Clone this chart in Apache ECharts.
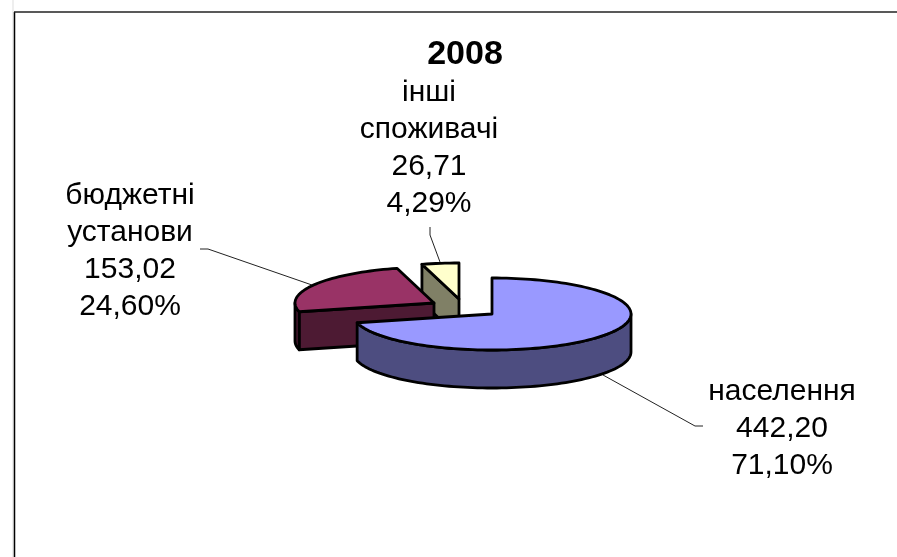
<!DOCTYPE html>
<html>
<head>
<meta charset="utf-8">
<style>html,body{margin:0;padding:0;background:#fff}#c{width:897px;height:557px}</style>
<script src="https://cdn.jsdelivr.net/npm/echarts@6/dist/echarts.min.js"></script>
</head>
<body>
<div id="c"></div>
<script>
// --- data ---
var chartTitle = '2008';
var categories = ['населення', 'бюджетні\nустанови', 'інші\nспоживачі'];
var values = [442.20, 153.02, 26.71];
var percentLabels = ['71,10%', '24,60%', '4,29%'];

// --- layout and style ---
var RX = 139, RY = 36, DEPTH = 38;
var centers = [[492, 314], [434, 303], [459, 299]];
var topColors = ['#9999FF', '#993366', '#FFFFCC'];
var sideColors = ['#4D4D80', '#4D1A33', '#808066'];
var labelPos = [[782, 429], [130, 251.5], [429, 148]];
var leaders = [
  [[603, 375], [695, 426], [703, 426]],
  [[200, 249], [208, 249], [312, 285]],
  [[430, 227], [430, 235], [440, 262]]
];
var FONT = '"Liberation Sans", Arial, sans-serif';
var total = values.reduce(function (a, b) { return a + b; }, 0);

function pt(c, deg, dy) {
  var r = deg * Math.PI / 180;
  return [c[0] + RX * Math.sin(r), c[1] - RY * Math.cos(r) + (dy || 0)];
}
function arc(c, a0, a1, dy) {
  var out = [], n = Math.max(2, Math.ceil(Math.abs(a1 - a0) / 2));
  for (var i = 0; i <= n; i++) out.push(pt(c, a0 + (a1 - a0) * i / n, dy));
  return out;
}
function renderSlice(params, api) {
  var i = params.dataIndex;
  var val = api.value(0);
  var start = 0;
  for (var k = 0; k < i; k++) start += values[k] / total * 360;
  var end = start + val / total * 360;
  var c = centers[i];
  var z = 10 + (values.length - i) * 10;
  var stroke = { stroke: '#000', lineWidth: 2.8, lineJoin: 'round' };
  var children = [];
  function poly(points, fill, zz) {
    children.push({
      type: 'polygon', z2: zz,
      shape: { points: points },
      style: Object.assign({ fill: fill }, stroke)
    });
  }
  // radial cut face at the slice start, visible on the left half only
  if (Math.sin(start * Math.PI / 180) < -1e-6) {
    var p = pt(c, start);
    poly([c, p, [p[0], p[1] + DEPTH], [c[0], c[1] + DEPTH]], sideColors[i], z);
  }
  // outer front wall
  var w0 = Math.max(start, 90), w1 = Math.min(end, 270);
  if (w1 > w0) {
    poly(arc(c, w0, w1).concat(arc(c, w1, w0, DEPTH)), sideColors[i], z + 1);
  }
  // top face
  poly([c].concat(arc(c, start, end)), topColors[i], z + 2);
  // leader
  children.push({
    type: 'polyline', z2: 5,
    shape: { points: leaders[i] },
    style: { fill: null, stroke: '#222', lineWidth: 1 }
  });
  // label
  var num = val.toFixed(2).replace('.', ',');
  children.push({
    type: 'text', z2: 100,
    style: {
      x: labelPos[i][0], y: labelPos[i][1],
      text: categories[i] + '\n' + num + '\n' + percentLabels[i],
      align: 'center', verticalAlign: 'middle',
      font: '30px ' + FONT, lineHeight: 37, fill: '#000'
    }
  });
  return { type: 'group', children: children };
}

var chart = echarts.init(document.getElementById('c'), null, { renderer: 'canvas' });
chart.setOption({
  animation: false,
  backgroundColor: '#fff',
  title: {
    text: chartTitle, left: 460, top: 50, textAlign: 'center', textVerticalAlign: 'middle',
    textStyle: { fontFamily: FONT, fontSize: 34, fontWeight: 'bold', color: '#000' }
  },
  graphic: [
    { type: 'line', silent: true, z: 1, shape: { x1: 13, y1: 0, x2: 13, y2: 557 }, style: { stroke: '#ddd', lineWidth: 1 } },
    { type: 'line', silent: true, z: 2, shape: { x1: 14.5, y1: 12, x2: 14.5, y2: 557 }, style: { stroke: '#000', lineWidth: 1.5 } },
    { type: 'line', silent: true, z: 2, shape: { x1: 14, y1: 12, x2: 897, y2: 12 }, style: { stroke: '#222', lineWidth: 1.5 } }
  ],
  series: [{
    type: 'custom',
    coordinateSystem: 'none',
    silent: true,
    renderItem: renderSlice,
    data: values.map(function (v) { return [v]; })
  }]
});
</script>
</body>
</html>
